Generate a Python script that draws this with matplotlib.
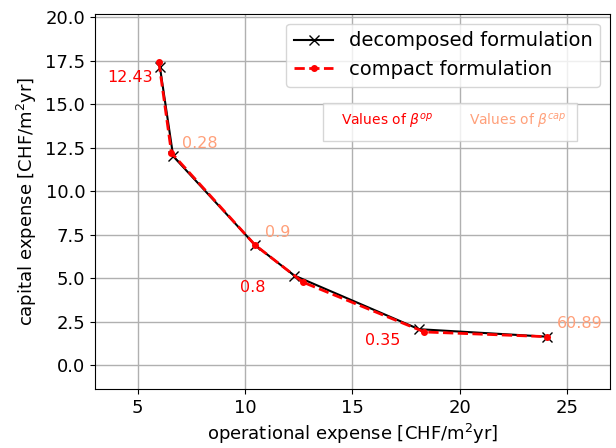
import numpy as np
import matplotlib
matplotlib.use('Agg')
import matplotlib.pyplot as plt
from matplotlib.lines import Line2D

# decomposed formulation (black x)
dec_op = [6.03, 6.65, 10.47, 12.3, 18.1, 24.05]
dec_cap = [17.16, 12.02, 6.91, 5.16, 2.08, 1.65]

# compact formulation (red dots)
com_op = [5.98, 6.57, 10.47, 12.7, 18.36, 24.05]
com_cap = [17.45, 12.21, 6.91, 4.78, 1.92, 1.65]

# beta annotations: (label, x, y)
beta_op = [("12.43", 4.63, 16.57), ("0.8", 10.36, 4.5), ("0.35", 16.43, 1.45)]
beta_cap = [("0.28", 7.9, 12.74), ("0.9", 11.53, 7.64), ("60.89", 25.6, 2.4)]

fig, ax = plt.subplots(figsize=(6.16, 4.48), dpi=100)
fig.subplots_adjust(left=0.154, right=0.99, top=0.969, bottom=0.132)

ax.plot(dec_op, dec_cap, color='black', marker='x', lw=1.5, ms=7,
        label='decomposed formulation')
ax.plot(com_op, com_cap, color='red', marker='.', ls='--', lw=2, ms=8,
        label='compact formulation')

for lab, x, y in beta_op:
    ax.text(x, y, lab, color='red', fontsize=11.5, ha='center', va='center')
for lab, x, y in beta_cap:
    ax.text(x, y, lab, color='lightsalmon', fontsize=11.5, ha='center', va='center')

ax.set_xlim(3, 27)
ax.set_ylim(-1.35, 20.2)
ax.set_xticks([5, 10, 15, 20, 25])
ax.set_yticks(np.arange(0, 20.1, 2.5))
ax.grid(True, color='#b0b0b0', lw=1)
ax.tick_params(labelsize=13)
ax.set_xlabel('operational expense [CHF/m$^2$yr]', fontsize=13)
ax.set_ylabel('capital expense [CHF/m$^2$yr]', fontsize=13)

leg1 = ax.legend(loc='upper right', fontsize=14)
ax.add_artist(leg1)

# text-only box explaining the annotation colours
blank = [Line2D([], [], lw=0), Line2D([], [], lw=0)]
leg2 = ax.legend(blank, [r'Values of $\beta^{op}$', r'Values of $\beta^{cap}$'],
                 loc='center', bbox_to_anchor=(0.689, 0.712), ncol=2,
                 handlelength=0.6, handletextpad=0, fontsize=10,
                 labelcolor=['red', 'lightsalmon'], fancybox=False,
                 columnspacing=2.0, borderpad=0.7)

fig.savefig('out.png', dpi=100)
